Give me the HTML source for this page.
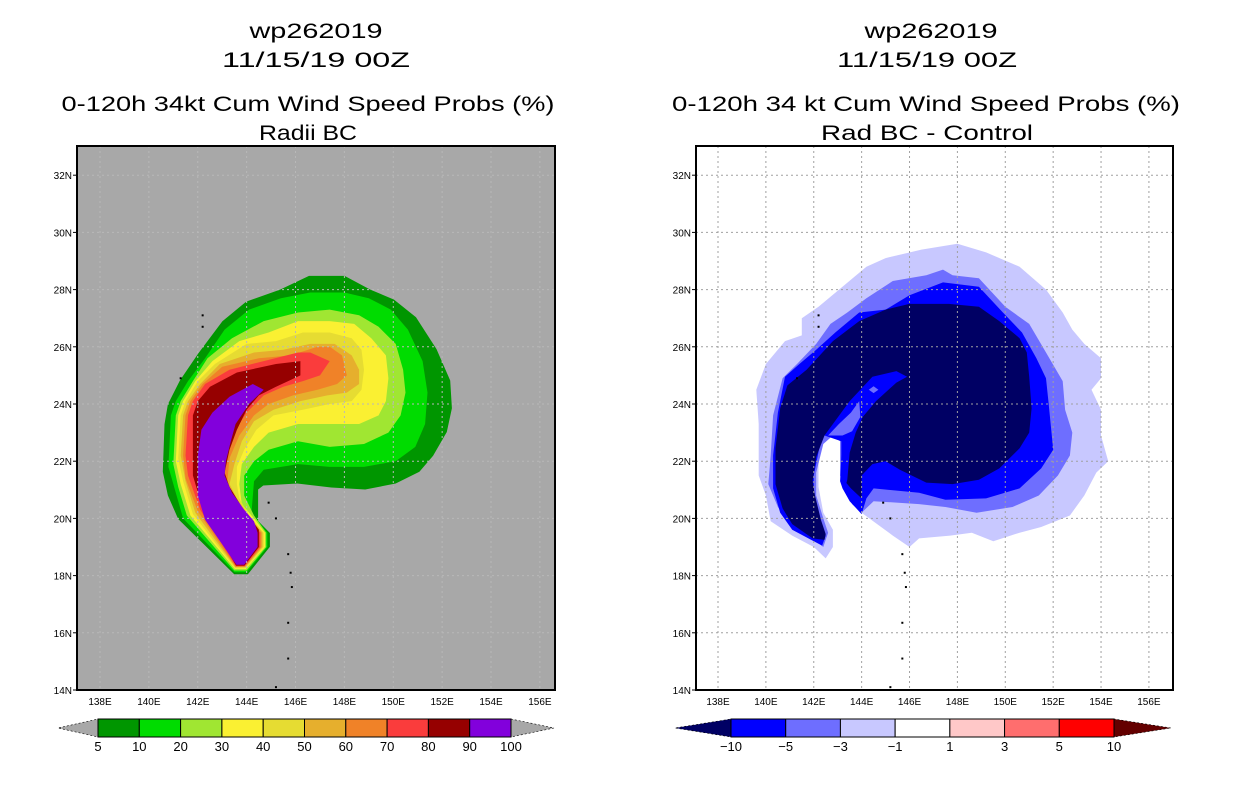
<!DOCTYPE html>
<html><head><meta charset="utf-8"><title>wp262019 wind speed probs</title>
<style>
html,body{margin:0;padding:0;background:#fff;}
svg{display:block;font-family:"Liberation Sans",sans-serif;}
</style></head>
<body>
<svg id="root" width="1236" height="800" viewBox="0 0 1236 800" xmlns="http://www.w3.org/2000/svg">
<defs>
<clipPath id="clipL"><rect x="77" y="146" width="478" height="544"/></clipPath>
<clipPath id="clipR"><rect x="696" y="146" width="477" height="544"/></clipPath>
</defs>
<g font-size="21" text-anchor="middle" fill="#000">
<text x="316" y="38" textLength="133" lengthAdjust="spacingAndGlyphs">wp262019</text>
<text x="316" y="67" textLength="188" lengthAdjust="spacingAndGlyphs">11/15/19 00Z</text>
<text x="308" y="111" textLength="493" lengthAdjust="spacingAndGlyphs">0-120h 34kt Cum Wind Speed Probs (%)</text>
<text x="308" y="140" textLength="98" lengthAdjust="spacingAndGlyphs">Radii BC</text>
</g>
<g font-size="21" text-anchor="middle" fill="#000">
<text x="931" y="38" textLength="133" lengthAdjust="spacingAndGlyphs">wp262019</text>
<text x="927" y="67" textLength="180" lengthAdjust="spacingAndGlyphs">11/15/19 00Z</text>
<text x="926" y="111" textLength="508" lengthAdjust="spacingAndGlyphs">0-120h 34 kt Cum Wind Speed Probs (%)</text>
<text x="927" y="140" textLength="212" lengthAdjust="spacingAndGlyphs">Rad BC - Control</text>
</g>
<g id="leftPlot"></g>
<g id="rightPlot"></g>
<g id="leftBar"></g>
<g id="rightBar"></g>
</svg>
<script>
// ---- data ----
const lonTicks = [138,140,142,144,146,148,150,152,154,156];
const latTicks = [14,16,18,20,22,24,26,28,30,32];
const leftLevels = ["5","10","20","30","40","50","60","70","80","90","100"];
const leftColors = ["#009600","#00dc00","#a0e632","#faf032","#e6dc32","#e6af2d","#f08228","#fa3c3c","#960000","#8200dc"];
const rightLevels = ["-10","-5","-3","-1","1","3","5","10"];
const rightColors = ["#0000ff","#6e6eff","#c8c8ff","#ffffff","#ffc8c8","#ff6e6e","#ff0000"];
const islands = [[142.2,27.1],[142.2,26.7],[141.3,24.9],[144.9,20.55],[145.2,20.0],[145.7,18.75],[145.8,18.1],[145.85,17.6],[145.7,16.35],[145.7,15.1],[145.2,14.1]];
const lvl5 = [[146.55,28.48],[148.01,28.48],[149.06,28.0],[150.03,27.65],[150.93,27.03],[151.77,25.92],[152.33,24.82],[152.4,23.85],[152.19,23.02],[151.63,22.19],[151.07,21.63],[150.1,21.22],[148.85,21.01],[147.46,21.08],[146.07,21.22],[144.68,21.15],[144.47,21.01],[144.47,19.91],[144.95,19.49],[144.95,19.01],[144.05,18.05],[143.49,18.05],[141.2,19.98],[140.78,20.8],[140.57,21.63],[140.64,23.29],[140.78,23.99],[141.27,24.82],[142.03,25.78],[143.01,26.89],[143.98,27.58],[145.37,28.0]];
const lvl10 = [[144.1,27.3],[145.4,27.7],[146.6,27.9],[148.0,27.9],[149.0,27.7],[149.9,27.3],[150.6,26.6],[151.2,25.5],[151.4,24.4],[151.3,23.3],[150.9,22.5],[150.1,22.0],[148.8,21.8],[147.4,21.8],[146.1,21.9],[144.7,21.7],[144.3,21.3],[144.2,20.2],[144.85,19.5],[144.85,19.0],[144.0,18.12],[143.5,18.12],[141.4,20.0],[141.1,20.9],[140.8,21.8],[140.9,23.6],[141.1,24.1],[141.6,24.8],[142.3,25.6],[143.1,26.6]];
const lvl20 = [[144.7,26.9],[146.1,27.2],[147.4,27.3],[148.6,27.1],[149.4,26.7],[150.1,26.1],[150.4,25.2],[150.5,24.4],[150.3,23.6],[149.8,23.0],[148.8,22.6],[147.4,22.5],[146.1,22.7],[144.9,22.4],[144.3,22.0],[143.9,21.5],[143.9,20.8],[144.3,20.1],[144.8,19.5],[144.8,19.0],[144.0,18.18],[143.5,18.18],[141.55,20.1],[141.2,21.1],[141.0,21.9],[141.1,23.6],[141.3,24.1],[141.8,24.8],[142.4,25.6],[143.4,26.3]];
const lvl30 = [[144.9,26.5],[146.1,26.9],[147.4,26.9],[148.4,26.8],[149.1,26.3],[149.7,25.7],[149.8,24.9],[149.7,24.1],[149.4,23.6],[148.6,23.3],[147.4,23.3],[146.1,23.3],[144.9,23.0],[144.3,22.5],[143.8,21.9],[143.7,21.2],[143.8,20.5],[144.3,20.0],[144.75,19.5],[144.75,19.0],[143.97,18.23],[143.52,18.23],[141.7,20.1],[141.3,21.2],[141.1,22.0],[141.2,23.6],[141.4,24.1],[141.9,24.8],[142.6,25.5],[143.7,26.2]];
const lvl40 = [[145.2,26.2],[146.3,26.5],[147.4,26.5],[148.3,26.3],[148.7,25.9],[148.8,25.2],[148.7,24.5],[148.3,24.1],[147.4,24.0],[146.3,23.8],[145.1,23.6],[144.4,23.1],[143.9,22.4],[143.6,21.8],[143.6,21.2],[143.7,20.7],[144.1,20.1],[144.7,19.5],[144.7,19.0],[143.95,18.26],[143.53,18.26],[141.8,20.15],[141.4,21.3],[141.2,22.1],[141.3,23.6],[141.5,24.1],[142.0,24.8],[142.7,25.4],[144.0,26.1]];
const lvl50 = [[145.5,25.9],[146.6,26.1],[147.6,26.1],[148.3,25.7],[148.6,25.2],[148.6,24.7],[148.1,24.4],[147.3,24.3],[146.2,24.1],[145.1,23.8],[144.3,23.4],[143.8,22.7],[143.5,21.9],[143.3,21.2],[143.6,20.7],[144.0,20.2],[144.65,19.5],[144.65,19.0],[143.94,18.29],[143.54,18.29],[141.9,20.2],[141.5,21.3],[141.3,22.2],[141.4,23.6],[141.6,24.1],[142.1,24.7],[142.9,25.4],[144.3,25.8]];
const lvl60 = [[145.8,25.7],[146.9,26.0],[147.4,26.0],[147.9,25.7],[148.1,25.0],[147.7,24.7],[146.9,24.5],[145.9,24.3],[144.9,24.0],[144.3,23.6],[143.7,22.9],[143.3,22.1],[143.2,21.2],[143.4,20.7],[143.9,20.2],[144.6,19.5],[144.6,19.0],[143.93,18.31],[143.55,18.31],[142.0,20.25],[141.5,21.4],[141.4,22.2],[141.5,23.6],[141.7,24.1],[142.2,24.7],[143.0,25.3],[144.5,25.6]];
const lvl70 = [[146.1,25.8],[146.6,25.8],[147.4,25.5],[147.0,25.0],[146.3,24.8],[145.5,24.6],[144.7,24.3],[144.0,23.7],[143.4,22.9],[143.1,22.2],[143.1,21.4],[143.3,20.8],[143.8,20.3],[144.55,19.5],[144.55,19.0],[143.92,18.33],[143.56,18.33],[142.1,20.3],[141.6,21.5],[141.5,22.2],[141.6,23.6],[141.8,24.1],[142.3,24.7],[143.3,25.2],[144.7,25.5]];
const lvl80 = [[145.2,25.4],[146.2,25.5],[146.2,25.0],[145.2,24.6],[144.5,24.3],[144.0,23.8],[143.6,23.1],[143.3,22.4],[143.1,21.6],[143.3,21.1],[143.8,20.4],[144.5,19.6],[144.5,19.0],[143.91,18.35],[143.57,18.35],[142.2,20.35],[141.8,21.5],[141.8,22.2],[141.8,23.6],[142.0,24.1],[142.5,24.6],[143.6,25.1]];
const lvl90 = [[144.25,24.7],[144.7,24.5],[144.1,24.0],[143.55,23.3],[143.35,22.7],[143.15,22.0],[143.1,21.5],[143.4,20.9],[143.9,20.3],[144.3,19.9],[144.45,19.5],[144.45,19.0],[143.9,18.38],[143.58,18.38],[142.3,19.95],[142.0,20.8],[142.0,22.2],[142.15,23.1],[142.6,23.7],[143.3,24.25]];
const diffLight = [[145.0,29.1],[146.5,29.4],[148.0,29.6],[149.2,29.3],[150.6,28.8],[151.7,28.0],[152.4,27.2],[152.8,26.6],[153.3,26.1],[154.0,25.6],[154.0,24.9],[153.6,24.5],[154.0,23.8],[154.0,22.9],[154.3,22.0],[153.8,21.6],[153.3,20.8],[152.7,20.1],[151.5,19.7],[150.6,19.5],[149.5,19.2],[148.6,19.5],[147.7,19.4],[146.4,19.3],[146.0,19.0],[145.3,19.4],[144.0,20.2],[143.4,20.8],[143.1,21.5],[143.1,23.0],[142.4,22.9],[142.2,22.2],[142.2,21.1],[142.4,20.2],[142.8,19.6],[142.8,19.0],[142.5,18.6],[142.0,19.0],[141.1,19.4],[140.2,19.9],[140.0,20.8],[139.7,21.5],[139.7,22.2],[139.7,23.3],[139.6,24.5],[140.0,25.4],[140.8,26.2],[141.5,26.4],[141.5,27.0],[142.2,27.4],[143.2,28.1],[144.2,28.8]];
const diffMed = [[145.3,28.3],[146.7,28.5],[147.4,28.7],[147.8,28.5],[148.9,28.4],[150.0,27.4],[151.0,26.8],[151.7,25.8],[152.4,24.8],[152.5,23.8],[152.8,23.0],[152.7,22.2],[152.2,21.5],[151.4,20.8],[150.3,20.4],[148.8,20.2],[147.5,20.4],[146.4,20.5],[144.5,20.6],[144.0,20.2],[143.6,20.5],[143.3,21.1],[143.1,21.5],[143.1,22.7],[142.8,22.9],[142.4,22.6],[142.1,21.6],[142.1,20.8],[142.4,20.0],[142.6,19.5],[142.4,19.0],[142.1,19.2],[141.1,19.7],[140.5,20.4],[140.1,21.2],[140.2,22.2],[140.3,23.6],[140.7,24.9],[141.3,25.4],[142.1,26.1],[142.7,26.8],[143.4,27.2],[144.2,27.7]];
const diffBlue = [[143.9,27.2],[145.0,27.3],[146.0,27.8],[147.4,28.25],[148.9,28.1],[149.9,27.2],[150.7,26.5],[151.3,25.6],[151.7,24.9],[151.8,24.1],[152.0,22.4],[151.5,21.75],[150.6,21.05],[149.2,20.7],[147.5,20.65],[146.4,20.9],[144.5,21.05],[144.2,20.7],[144.0,20.15],[143.5,20.6],[143.2,21.05],[143.1,21.3],[143.2,22.9],[143.05,23.0],[142.5,23.0],[142.35,22.95],[142.0,21.5],[142.0,20.8],[142.2,19.95],[142.5,19.4],[142.35,19.05],[142.0,19.2],[141.1,19.6],[140.6,20.2],[140.3,21.05],[140.3,22.2],[140.5,23.7],[140.8,24.95],[141.4,25.4],[142.1,25.9],[142.9,26.5]];
const diffNavy = [[143.9,26.9],[145.0,27.3],[146.0,27.5],[147.65,27.5],[148.9,27.4],[149.75,26.9],[150.6,26.3],[150.9,25.8],[151.0,24.95],[151.1,23.85],[151.0,23.0],[150.6,22.45],[149.75,21.75],[148.9,21.35],[147.8,21.2],[146.7,21.25],[145.6,21.7],[145.0,22.0],[144.45,21.9],[144.0,21.5],[144.0,20.7],[143.55,21.05],[143.3,21.3],[143.35,22.45],[143.5,23.0],[143.1,22.9],[142.45,22.9],[142.1,22.15],[141.95,21.3],[142.05,20.8],[142.3,19.95],[142.5,19.45],[142.45,19.25],[141.95,19.3],[141.1,19.8],[140.7,20.35],[140.4,21.2],[140.4,22.45],[140.6,23.85],[140.9,24.65],[141.7,25.2],[142.8,26.2]];
const diffTongue = [[142.45,22.9],[142.8,23.3],[143.5,24.1],[144.45,24.95],[145.45,25.15],[145.9,24.95],[145.45,24.75],[144.6,24.1],[144.05,23.55],[143.75,23.0],[143.5,22.3],[143.4,21.35],[143.3,21.05],[143.15,21.35],[143.15,22.7]];
const diffTongueMed = [[142.6,22.9],[143.05,23.3],[143.55,23.7],[143.9,24.1],[143.95,23.55],[143.6,23.05],[143.2,22.9]];
const diffPatch = [[144.3,24.5],[144.5,24.62],[144.7,24.5],[144.5,24.38]];

// ---- scales ----
const NS = "http://www.w3.org/2000/svg";
function mk(tag, attrs, parent){ const e=document.createElementNS(NS,tag); for(const k in attrs) e.setAttribute(k,attrs[k]); parent.appendChild(e); return e; }
const LX = lon => 100 + (lon-138)*24.44;
const RX = lon => 718 + (lon-138)*23.94;
const Y = lat => 690 - (lat-14)*28.6;
function pts(poly, X){ return poly.map(p => X(p[0]).toFixed(1)+","+Y(p[1]).toFixed(1)).join(" "); }

function drawMap(g, X, x0, x1, bg, clip, polys, gridColor, side){
  const bgr = mk("rect",{x:x0,y:146,width:x1-x0,height:544,fill:bg},g);
  
  
  const cg = mk("g",{"clip-path":"url(#"+clip+")"},g);
  
  
  polys.forEach((pp,i)=>{
    const p = mk("polygon",{points:pts(pp[0],X),fill:pp[1]},cg);
    
    
  });
  islands.forEach(c=>{
    const d = mk("rect",{x:X(c[0])-1,y:Y(c[1])-1,width:2,height:2,fill:"#000"},cg);
    
    
  });
  const gg = mk("g",{stroke:gridColor,"stroke-width":1,"stroke-dasharray":"2,3",fill:"none"},cg);
  
  
  lonTicks.forEach(l=>{ const ln=mk("line",{x1:X(l),x2:X(l),y1:146,y2:690},gg);   });
  latTicks.forEach(l=>{ const ln=mk("line",{x1:x0,x2:x1,y1:Y(l),y2:Y(l)},gg);   });
  const fr = mk("rect",{x:x0,y:146,width:x1-x0,height:544,fill:"none",stroke:"#000","stroke-width":2},g);
  
  
  const xa = mk("g",{"font-size":10,"text-anchor":"middle",fill:"#000"},g);
  
  
  lonTicks.forEach(l=>{ const t=mk("text",{x:X(l),y:705},xa); t.textContent=l+"E";   });
  const ya = mk("g",{"font-size":10,"text-anchor":"end",fill:"#000"},g);
  
  
  latTicks.forEach(l=>{
    const t=mk("text",{x:x0-5,y:Y(l)+4},ya); t.textContent=l+"N";
     
    const tk=mk("line",{x1:x0-4,x2:x0,y1:Y(l),y2:Y(l),stroke:"#000","stroke-width":1},ya);
     
  });
}

const leftPolys = [[lvl5,leftColors[0],"5"],[lvl10,leftColors[1],"10"],[lvl20,leftColors[2],"20"],[lvl30,leftColors[3],"30"],[lvl40,leftColors[4],"40"],[lvl50,leftColors[5],"50"],[lvl60,leftColors[6],"60"],[lvl70,leftColors[7],"70"],[lvl80,leftColors[8],"80"],[lvl90,leftColors[9],"90"]];
drawMap(document.getElementById("leftPlot"), LX, 77, 555, "#a8a8a8", "clipL", leftPolys, "#b8b8b8", "left");
const rightPolys = [[diffLight,"#c8c8ff","minus1"],[diffMed,"#6e6eff","minus3"],[diffBlue,"#0000ff","minus5"],[diffNavy,"#000064","minus10"],[diffTongue,"#0000ff","minus5-tongue"],[diffTongueMed,"#6e6eff","minus3-tongue"],[diffPatch,"#6e6eff","minus3-patch"]];
drawMap(document.getElementById("rightPlot"), RX, 696, 1173, "#ffffff", "clipR", rightPolys, "#a0a0a0", "right");

function drawBar(g, x0, x1, colors, labels, leftTri, rightTri, triL, triR, side){
  const y0=719, h=18, w=(x1-x0)/colors.length;
  const tl = mk("polygon",{points:`${x0},${y0} ${x0},${y0+h} ${x0-triL},${y0+h/2}`,fill:leftTri,stroke:"#000","stroke-width":0.6,"stroke-dasharray":"2,2"},g);
   
  const tr = mk("polygon",{points:`${x1},${y0} ${x1},${y0+h} ${x1+triR},${y0+h/2}`,fill:rightTri,stroke:"#000","stroke-width":0.6,"stroke-dasharray":"2,2"},g);
   
  colors.forEach((c,i)=>{
    const r=mk("rect",{x:x0+i*w,y:y0,width:w,height:h,fill:c,stroke:"#000","stroke-width":1},g);
     
  });
  labels.forEach((l,i)=>{
    const t=mk("text",{x:x0+i*w,y:751,"font-size":13,"text-anchor":"middle",fill:"#000"},g);
    t.textContent=l.replace("-","\u2212");
     
  });
}
drawBar(document.getElementById("leftBar"), 98, 511, leftColors, leftLevels, "#a8a8a8", "#a8a8a8", 40, 43, "left");
drawBar(document.getElementById("rightBar"), 731, 1114, rightColors, rightLevels, "#000064", "#640000", 56, 57, "right");
</script>
</body></html>
